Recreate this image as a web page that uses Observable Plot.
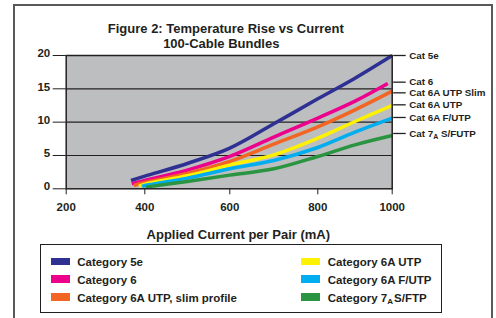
<!DOCTYPE html>
<html><head><meta charset="utf-8">
<script src="https://cdn.jsdelivr.net/npm/d3@7"></script>
<script src="https://cdn.jsdelivr.net/npm/@observablehq/plot@0.6"></script>
<style>
html,body{margin:0;padding:0;background:#fff;}
body{width:496px;height:318px;overflow:hidden;position:relative;font-family:"Liberation Sans",Arial,Helvetica,sans-serif;font-weight:bold;color:#231f20;}
#frame{position:absolute;left:13px;top:4px;width:476px;height:340px;border:2px solid #58595b;}
#chart{position:absolute;left:0;top:0;}
.t{position:absolute;white-space:nowrap;font-size:13px;line-height:14.6px;}
#legend{position:absolute;left:40px;top:244.3px;width:399.7px;height:66.5px;border:1.5px solid #231f20;}
.sw{position:absolute;width:19.3px;height:7.7px;}
.lt{position:absolute;font-size:11.5px;line-height:12px;white-space:nowrap;}
.lt sub{font-size:8px;vertical-align:-2px;line-height:0;margin-right:1px;}
</style></head>
<body>
<div id="frame"></div>
<div id="chart"></div>
<div class="t" style="left:0;width:451.6px;text-align:center;top:22.4px">Figure 2: Temperature Rise vs Current</div>
<div class="t" style="left:0;width:442.6px;text-align:center;top:37.2px">100-Cable Bundles</div>
<div class="t" style="left:0;width:476.6px;text-align:center;top:227.5px">Applied Current per Pair (mA)</div>
<div id="legend"></div>
<script>
// ---- data ----
const seriesKeys = ["Cat 5e", "Cat 6", "Cat 6A UTP Slim", "Cat 6A UTP", "Cat 6A F/UTP", "Cat 7A S/FUTP"];
const seriesColors = ["#2e3192", "#ec008c", "#f26522", "#fff200", "#00aeef", "#2a9440"];
const legendLabels = ["Category 5e", "Category 6", "Category 6A UTP, slim profile", "Category 6A UTP", "Category 6A F/UTP", "Category 7A S/FTP"];

const mA_cat5e   = [365, 400, 500, 600, 700, 800, 900, 1000];
const rise_cat5e = [1.25, 1.9, 3.8, 6.1, 9.75, 13.5, 16.6, 20];
const mA_cat6    = [367, 400, 500, 600, 700, 800, 900, 988];
const rise_cat6  = [0.75, 1.25, 2.8, 4.85, 7.75, 10.6, 13.15, 15.8];
const mA_cat6aSlim   = [372, 400, 500, 600, 700, 800, 900, 1000];
const rise_cat6aSlim = [0.5, 0.95, 2.3, 4.1, 6.7, 9.3, 11.85, 14.65];
const mA_cat6aUtp    = [385, 400, 500, 600, 700, 800, 900, 1000];
const rise_cat6aUtp  = [0.4, 0.7, 1.95, 3.55, 5.1, 7.6, 10.1, 12.5];
const mA_cat6aFutp   = [393, 400, 500, 600, 700, 800, 900, 1000];
const rise_cat6aFutp = [0.35, 0.5, 1.6, 3.0, 4.25, 6.2, 8.5, 10.6];
const mA_cat7a   = [402, 500, 600, 700, 800, 900, 1000];
const rise_cat7a = [0.25, 1.1, 2.05, 3.0, 4.85, 6.6, 8.0];

const endLabels = ["Cat 5e", "Cat 6", "Cat 6A UTP Slim", "Cat 6A UTP", "Cat 6A F/UTP", "Cat 7A S/FUTP"];
const endLabelRise = [20, 16.0, 14.4, 12.6, 10.7, 8.3];
const xTicks = [200, 400, 600, 800, 1000];
const yTicks = [0, 5, 10, 15, 20];

const seriesX = [mA_cat5e, mA_cat6, mA_cat6aSlim, mA_cat6aUtp, mA_cat6aFutp, mA_cat7a];
const seriesY = [rise_cat5e, rise_cat6, rise_cat6aSlim, rise_cat6aUtp, rise_cat6aFutp, rise_cat7a];
const rows = [];
seriesKeys.forEach((k, s) => seriesX[s].forEach((x, i) => rows.push({series: k, mA: x, rise: seriesY[s][i]})));

const ink = "#231f20";
const plot = Plot.plot({
  width: 496, height: 245,
  marginTop: 55, marginBottom: 56.7, marginLeft: 65.7, marginRight: 104.3,
  style: {background: "transparent", fontFamily: "Liberation Sans, Arial, sans-serif", fontSize: "11.5px", fontWeight: "bold", color: ink, overflow: "visible"},
  x: {type: "linear", domain: xTicks, range: [65.7, 144.3, 229.3, 317.3, 391.7], ticks: xTicks, tickSize: 6, tickPadding: 8, tickFormat: "d", label: null},
  y: {domain: [0, 20], ticks: yTicks, tickSize: 13, tickPadding: 3, label: null},
  color: {domain: seriesKeys, range: seriesColors},
  marks: [
    Plot.frame({fill: "#bcbec0"}),
    Plot.ruleY(yTicks.slice(1, -1), {stroke: ink, strokeWidth: 1.2}),
    Plot.line(rows, {x: "mA", y: "rise", z: "series", stroke: "series", strokeWidth: 3.5, curve: "catmull-rom", strokeLinecap: "butt"}),
    Plot.frame({stroke: ink, strokeWidth: 1.5}),
    Plot.ruleY(endLabelRise, {x1: 1000, x2: 1000, insetLeft: 1.5, insetRight: -14, stroke: ink, strokeWidth: 1.3}),
    Plot.text(endLabels, {x: 1000, y: (d, i) => endLabelRise[i], text: d => d, textAnchor: "start", dx: 17, fontSize: 9.8, fill: ink})
  ]
});
// subscript "A" in the Cat 7A label
const NS = "http://www.w3.org/2000/svg";
plot.querySelectorAll("text").forEach(t => {
  if (t.textContent === "Cat 7A S/FUTP") {
    t.textContent = "";
    const a = document.createElementNS(NS, "tspan"); a.textContent = "Cat 7";
    const b = document.createElementNS(NS, "tspan"); b.textContent = "A"; b.setAttribute("font-size", "7"); b.setAttribute("dy", "2.5");
    const c = document.createElementNS(NS, "tspan"); c.textContent = " S/FUTP"; c.setAttribute("dy", "-2.5");
    t.append(a, b, c);
  }
});
// y tick labels sit slightly above their ticks in the reference
const yLab = plot.querySelector('[aria-label="y-axis tick label"]');
if (yLab) yLab.setAttribute("transform", ((yLab.getAttribute("transform") || "") + " translate(0,-2)").trim());
document.getElementById("chart").append(plot);

// legend
const legend = document.getElementById("legend");
const colX = [[10.2, 36.2], [260.2, 286.8]];
const rowSw = [12.5, 30.2, 48.2];
const rowTx = [10.7, 28.4, 46.4];
legendLabels.forEach((lab, i) => {
  const col = Math.floor(i / 3), row = i % 3;
  const sw = document.createElement("div");
  sw.className = "sw";
  sw.style.left = colX[col][0] + "px"; sw.style.top = rowSw[row] + "px";
  sw.style.background = seriesColors[i];
  const tx = document.createElement("div");
  tx.className = "lt";
  tx.style.left = colX[col][1] + "px"; tx.style.top = rowTx[row] + "px";
  if (lab.includes("7A ")) {
    const [pre, post] = lab.split("7A ");
    tx.append(pre + "7");
    const sub = document.createElement("sub"); sub.textContent = "A";
    tx.append(sub, post);
  } else tx.textContent = lab;
  legend.append(sw, tx);
});
</script>
</body></html>
